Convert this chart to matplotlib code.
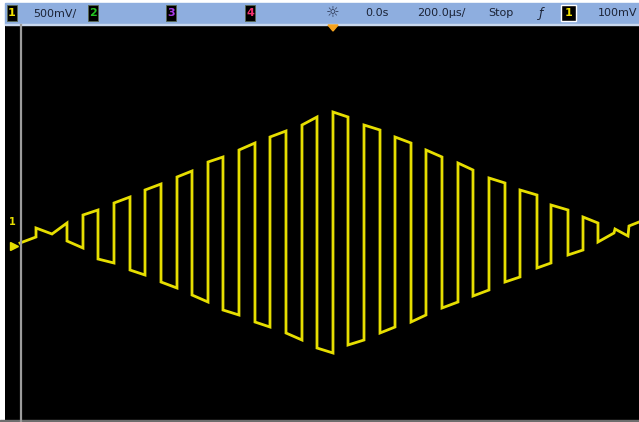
import matplotlib
matplotlib.use("Agg")
import matplotlib.pyplot as plt
from matplotlib.patches import Rectangle, Polygon

# trace vertices: time in us (trigger at 0), level in mV
t_us = [-978.1, -928.1, -928.1, -878.1, -831.3, -831.3, -781.3, -781.3,
        -734.4, -734.4, -684.4, -684.4, -634.4, -634.4, -587.5, -587.5,
        -537.5, -537.5, -487.5, -487.5, -440.6, -440.6, -390.6, -390.6,
        -343.8, -343.8, -293.8, -293.8, -243.8, -243.8, -196.9, -196.9,
        -146.9, -146.9, -96.9, -96.9, -50.0, -50.0, 0.0, 0.0,
        46.9, 46.9, 96.9, 96.9, 146.9, 146.9, 193.8, 193.8,
        243.8, 243.8, 290.6, 290.6, 340.6, 340.6, 390.6, 390.6,
        437.5, 437.5, 487.5, 487.5, 537.5, 537.5, 584.4, 584.4,
        637.5, 637.5, 681.3, 681.3, 734.4, 734.4, 781.3, 781.3,
        828.1, 828.1, 878.1, 881.3, 921.9, 925.0, 956.3]
v_mv = [-210, -150, -60, -120, -10, -190, -260, 70,
        120, -370, -410, 190, 250, -480, -530, 320,
        380, -600, -660, 450, 510, -730, -800, 600,
        650, -880, -930, 720, 790, -1000, -1050, 850,
        910, -1110, -1180, 970, 1050, -1260, -1310, 1100,
        1050, -1230, -1180, 970, 920, -1110, -1050, 850,
        790, -1000, -930, 720, 650, -860, -800, 590,
        520, -740, -680, 440, 390, -600, -550, 320,
        270, -460, -410, 170, 120, -330, -280, 50,
        -10, -200, -110, -70, -140, -40, 0]

# status bar texts
bar_labels = ["500mV/", "0.0s", "200.0µs/", "Stop", "100mV"]
bar_label_x = [33, 365, 417, 488, 598]
chan_boxes = ["1", "2", "3", "4"]
chan_box_x = [7, 88, 166, 245]
chan_colors = ["#F0E000", "#22C422", "#A83AE8", "#F0306E"]

W, H = 639, 422
fig = plt.figure(figsize=(W / 100, H / 100), dpi=100)
fig.patch.set_facecolor("white")

# scope screen
ax = fig.add_axes([5 / W, 2 / H, 634 / W, 396 / H])
ax.set_facecolor("black")
ax.plot(t_us, v_mv, color="#E6DE00", lw=2.0, solid_joinstyle="miter")
ax.set_xlim(-1025.0, 956.3)
ax.set_ylim(-1980, 1980)
ax.set_xticks([])
ax.set_yticks([])
for s in ax.spines.values():
    s.set_visible(False)

# overlay in pixel coordinates for the bar and markers
ov = fig.add_axes([0, 0, 1, 1])
ov.set_xlim(0, W)
ov.set_ylim(H, 0)
ov.axis("off")
ov.patch.set_alpha(0)

ov.add_patch(Rectangle((5, 3), W - 5, 21, color="#8EAEDF"))
ov.add_patch(Rectangle((5, 23.5), W - 5, 1.5, color="#C9D8EE"))
ov.add_patch(Rectangle((0, 420), W, 2, color="#6E6E6E"))
ov.plot([21, 21], [25, 422], color="#9C9C9C", lw=1.6)

for lab, x, c in zip(chan_boxes, chan_box_x, chan_colors):
    ov.add_patch(Rectangle((x, 5), 10, 16, facecolor="black", edgecolor="#5a6a50", lw=0.6))
    ov.text(x + 5, 13.5, lab, color=c, fontsize=8, fontweight="bold",
            ha="center", va="center")

for lab, x in zip(bar_labels, bar_label_x):
    ov.text(x, 13.5, lab, color="#1B2336", fontsize=8, ha="left", va="center")

ov.text(333, 13, "☼", color="#2A3552", fontsize=11, ha="center", va="center")
ov.text(541, 13.5, "ƒ", color="#1B2336", fontsize=9, ha="center", va="center",
        style="italic")
ov.add_patch(Rectangle((561, 5), 15, 16, facecolor="black", edgecolor="white", lw=1.0))
ov.text(568.5, 13.5, "1", color="#F0E000", fontsize=8, fontweight="bold",
        ha="center", va="center")

# trigger position marker
ov.add_patch(Polygon([(328, 25), (338, 25), (333, 31)], color="#F5A21E"))

# channel 1 ground marker
ov.text(12, 222, "1", color="#E6DE00", fontsize=7, fontweight="bold",
        ha="center", va="center")
ov.plot([14], [246], marker=">", color="#E6DE00", ms=6)

fig.savefig("out.png", dpi=100, facecolor="white")
